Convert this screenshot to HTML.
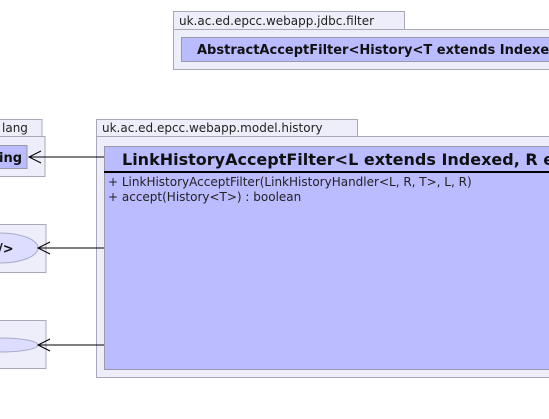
<!DOCTYPE html>
<html><head><style>
body{margin:0;width:549px;height:415px;background:#fff;overflow:hidden;font-family:"DejaVu Sans","Liberation Sans",sans-serif}
</style></head><body>
<svg width="549" height="415" xmlns="http://www.w3.org/2000/svg" font-family="DejaVu Sans, Liberation Sans, sans-serif">
<rect x="173.5" y="11.5" width="231" height="18" fill="#eeeefa" stroke="#a8a8b8"/>
<rect x="173.5" y="29.5" width="380" height="40" fill="#eeeefa" stroke="#a8a8b8"/>
<text x="179" y="25" font-size="12" fill="#222">uk.ac.ed.epcc.webapp.jdbc.filter</text>
<rect x="181.5" y="37.5" width="380" height="24" fill="#bbbbff" stroke="#9999aa"/>
<text x="197" y="54" font-size="13" font-weight="bold" fill="#111">AbstractAcceptFilter&lt;History&lt;T extends Indexed</text>
<rect x="-1" y="119.5" width="43" height="17" fill="#eeeefa" stroke="#a8a8b8"/>
<rect x="-1" y="136.5" width="46" height="40" fill="#eeeefa" stroke="#a8a8b8"/>
<text x="2" y="132" font-size="12" fill="#222">lang</text>
<rect x="-1" y="145.5" width="28" height="23" fill="#bbbbff" stroke="#9999aa"/>
<text x="-1" y="162" font-size="13" font-weight="bold" fill="#111">ing</text>
<rect x="-1" y="224.5" width="47" height="48" fill="#eeeefa" stroke="#a8a8b8"/>
<ellipse cx="0" cy="248" rx="38" ry="15" fill="#ddddff" stroke="#aaaacc"/>
<text x="-2" y="253" font-size="13" font-weight="bold" fill="#111">/&gt;</text>
<rect x="-1" y="320.5" width="47" height="48" fill="#eeeefa" stroke="#a8a8b8"/>
<ellipse cx="0" cy="345" rx="38" ry="7" fill="#ddddff" stroke="#aaaacc"/>
<rect x="96.5" y="119.5" width="261" height="17" fill="#eeeefa" stroke="#a8a8b8"/>
<rect x="96.5" y="136.5" width="460" height="241" fill="#eeeefa" stroke="#a8a8b8"/>
<text x="102" y="132" font-size="12" fill="#222">uk.ac.ed.epcc.webapp.model.history</text>
<rect x="104.5" y="146.5" width="450" height="223" fill="#bbbbff" stroke="#9999aa"/>
<line x1="104" y1="172" x2="549" y2="172" stroke="#000" stroke-width="2"/>
<text x="122" y="165" font-size="16" font-weight="bold" fill="#111">LinkHistoryAcceptFilter&lt;L extends Indexed, R ex</text>
<text x="108" y="186" font-size="12" fill="#222">+  LinkHistoryAcceptFilter(LinkHistoryHandler&lt;L, R, T&gt;, L, R)</text>
<text x="108" y="201" font-size="12" fill="#222">+  accept(History&lt;T&gt;) : boolean</text>
<g stroke="#000" fill="none" stroke-width="1">
<line x1="104" y1="157" x2="29" y2="157"/><polyline points="41,151 29,157 41,163"/>
<line x1="104" y1="248" x2="38" y2="248"/><polyline points="50,242 38,248 50,254"/>
<line x1="104" y1="345" x2="38" y2="345"/><polyline points="50,339 38,345 50,351"/>
</g>
</svg>
</body></html>
